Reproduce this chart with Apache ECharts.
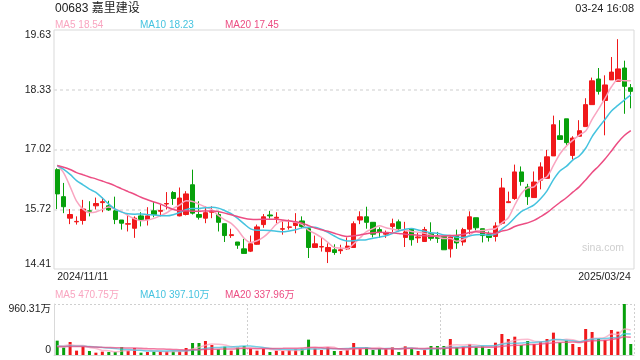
<!DOCTYPE html>
<html><head><meta charset="utf-8">
<script src="https://cdn.jsdelivr.net/npm/echarts@6/dist/echarts.min.js"></script>
<style>html,body{margin:0;padding:0;background:#fff}#c{width:640px;height:360px}</style>
</head><body><div id="c"></div>
<script>
// ---- data ----
const months = [
  ['2024/11', [11,12,13,14,15,18,19,20,21,22,25,26,27,28,29]],
  ['2024/12', [2,3,4,5,6,9,10,11,12,13,16,17,18,19,20,23,24,27,30,31]],
  ['2025/01', [2,3,6,7,8,9,10,13,14,15,16,17,20,21,22,23,24,27,28]],
  ['2025/02', [3,4,5,6,7,10,11,12,13,14,17,18,19,20,21,24,25,26,27,28]],
  ['2025/03', [3,4,5,6,7,10,11,12,13,14,17,18,19,20,21,24]]
];
const opens  = [16.58,15.99,15.52,15.44,15.47,15.68,15.79,15.86,15.79,15.68,15.48,15.39,15.30,15.57,15.49,15.68,15.67,15.83,16.08,15.57,15.60,16.25,15.60,15.52,15.65,15.60,15.40,15.14,15.00,14.85,14.80,14.95,15.38,15.59,15.52,15.28,15.32,15.36,15.46,15.29,14.88,14.89,14.79,14.83,14.81,14.85,14.88,15.48,15.55,15.43,15.27,15.17,15.34,15.44,15.10,15.29,15.09,15.01,15.18,15.10,15.12,14.85,15.14,15.00,15.28,15.53,15.29,15.16,15.12,15.41,15.86,15.95,16.53,16.20,15.97,16.35,16.39,16.88,17.32,17.69,16.89,17.31,17.52,18.00,18.56,18.09,18.54,18.51,18.80,18.37];
const closes = [16.05,15.77,15.60,15.45,15.72,15.67,15.84,15.88,15.70,15.49,15.41,15.40,15.52,15.49,15.57,15.60,15.69,15.84,15.95,15.96,16.05,15.63,15.54,15.64,15.67,15.43,15.14,15.16,14.93,14.75,14.96,15.33,15.55,15.57,15.54,15.29,15.33,15.42,15.34,14.88,14.96,14.90,14.88,14.77,14.83,14.91,15.40,15.55,15.43,15.17,15.22,15.19,15.40,15.29,15.22,15.05,15.11,15.27,15.08,15.08,14.83,15.11,14.98,15.27,15.55,15.31,15.14,15.10,15.35,16.18,15.88,16.53,16.32,15.99,16.31,16.64,16.86,17.56,17.24,17.17,17.27,17.43,18.00,18.52,18.29,18.43,18.71,18.78,18.40,18.29];
const lows   = [15.72,15.63,15.39,15.38,15.38,15.56,15.71,15.65,15.68,15.39,15.27,15.23,15.09,15.34,15.36,15.54,15.56,15.71,15.81,15.56,15.58,15.60,15.49,15.41,15.52,15.23,15.00,15.09,14.85,14.75,14.78,14.94,15.31,15.51,15.41,15.16,15.27,15.19,15.30,14.65,14.88,14.79,14.54,14.72,14.74,14.83,14.88,15.39,15.29,15.10,15.09,15.09,15.22,15.23,14.89,14.92,14.98,15.01,15.03,14.98,14.83,14.66,14.85,14.92,15.17,15.23,14.99,15.01,15.01,15.38,15.85,15.92,16.23,15.81,15.97,16.15,16.39,16.88,17.23,17.12,16.80,17.31,17.52,18.00,18.22,17.33,18.54,18.51,17.80,17.92];
const highs  = [16.61,16.29,15.72,15.56,15.92,15.89,15.97,15.97,15.90,15.99,15.48,15.60,15.56,15.65,15.76,15.87,15.81,16.09,16.11,16.19,16.11,16.58,15.89,15.78,15.78,15.67,15.40,15.29,15.00,15.07,15.14,15.38,15.61,15.68,15.65,15.47,15.49,15.63,15.56,15.29,15.14,15.09,14.97,14.95,14.94,15.10,15.45,15.67,15.77,15.43,15.32,15.25,15.51,15.49,15.44,15.29,15.20,15.33,15.43,15.22,15.12,15.12,15.27,15.31,15.67,15.53,15.29,15.23,15.43,16.40,16.10,16.69,16.65,16.27,16.54,16.74,17.01,17.76,17.66,17.69,17.31,17.66,18.14,18.59,18.80,18.64,19.04,19.43,18.96,18.45];
const volumes = [270,138,245,82,170,75,44,63,57,57,151,82,132,44,57,63,63,69,69,69,132,226,226,264,188,107,157,82,144,170,119,82,119,57,82,75,94,107,119,289,119,94,144,75,75,94,226,119,144,94,119,119,144,57,163,119,75,94,170,170,170,301,144,157,207,144,170,113,232,396,301,345,188,264,207,251,301,421,232,270,207,151,490,433,301,283,471,440,960.31,207];
// closes / volumes of the 19 sessions before the window (for the moving averages)
const priorCloses  = [16.5,16.6,16.8,16.7,16.6,16.7,16.8,16.7,16.6,16.7,16.6,16.7,16.8,16.65,16.6,16.57,17.10,17.05,16.58];
const priorVolumes = [150,160,140,170,150,130,160,150,140,155,165,150,140,160,150,145,155,150,160];
const priceTickLabels = ['14.41','15.72','17.02','18.33','19.63'];
const priceMin = 14.41, priceMax = 19.63;
const volTickLabels = ['0','960.31万'];
const volMax = 960.31;
const titleText = '00683 嘉里建设';
const timeText = '03-24 16:08';
const maLegend = ['MA5 18.54','MA10 18.23','MA20 17.45'];
const volLegend = ['MA5 470.75万','MA10 397.10万','MA20 337.96万'];
const maPeriods = [5,10,20];

// ---- build ----
const dates = [];
months.forEach(([m, days]) => days.forEach(d => dates.push(m + '/' + String(d).padStart(2,'0'))));
const RED = '#f0191b', GREEN = '#07a00b';
const MA_COLORS = ['#f9a5c0','#45c3df','#ec4d83'];
const FONT = "'Liberation Sans','Noto Sans CJK SC',Arial,sans-serif";

function ma(n, data, prior) {
  const all = prior.concat(data);
  return data.map((_, i) => {
    const j = i + prior.length;
    let s = 0;
    for (let k = j - n + 1; k <= j; k++) s += all[k];
    return +(s / n).toFixed(3);
  });
}
const kData = opens.map((o, i) => [o, closes[i], lows[i], highs[i]]);
const volData = volumes.map((v, i) => ({
  value: v,
  itemStyle: { color: closes[i] >= opens[i] ? RED : GREEN }
}));
const priceInterval = (priceMax - priceMin) / (priceTickLabels.length - 1);

const series = [{
  type: 'candlestick', xAxisIndex: 0, yAxisIndex: 0, data: kData, barWidth: '74%',
  itemStyle: { color: RED, color0: GREEN, borderColor: RED, borderColor0: GREEN, borderWidth: 1 },
  silent: true
}];
maPeriods.forEach((p, idx) => {
  series.push({
    type: 'line', xAxisIndex: 0, yAxisIndex: 0, data: ma(p, closes, priorCloses),
    showSymbol: false, smooth: 0.3, silent: true,
    lineStyle: { width: 1.5, color: MA_COLORS[idx] }
  });
});
series.push({
  type: 'bar', xAxisIndex: 1, yAxisIndex: 1, data: volData, barWidth: 3, silent: true
});
maPeriods.forEach((p, idx) => {
  series.push({
    type: 'line', xAxisIndex: 1, yAxisIndex: 1, data: ma(p, volumes, priorVolumes),
    showSymbol: false, smooth: 0.3, silent: true,
    lineStyle: { width: 1.5, color: MA_COLORS[idx], opacity: 0.75 }
  });
});

const txt = (text, pos, size, color) => Object.assign({
  type: 'text', silent: true,
  style: { text, fontSize: size, fill: color, fontFamily: FONT }
}, pos);

const graphic = [
  txt(titleText, { left: 55, top: 2.5 }, 12, '#222'),
  txt(timeText, { right: 6, top: 3 }, 11, '#222'),
  txt(maLegend[0], { left: 55, top: 20 }, 10, MA_COLORS[0]),
  txt(maLegend[1], { left: 140, top: 20 }, 10, MA_COLORS[1]),
  txt(maLegend[2], { left: 225, top: 20 }, 10, MA_COLORS[2]),
  txt(volLegend[0], { left: 55, top: 290 }, 10, MA_COLORS[0]),
  txt(volLegend[1], { left: 140, top: 290 }, 10, MA_COLORS[1]),
  txt(volLegend[2], { left: 225, top: 290 }, 10, MA_COLORS[2]),
  txt('sina.com', { left: 582, top: 243 }, 10.5, '#cfcfcf')
];

const option = {
  animation: false,
  backgroundColor: '#fff',
  textStyle: { fontFamily: FONT },
  grid: [
    { left: 54, right: 6, top: 30, height: 239, show: true, borderColor: '#d9d9d9', borderWidth: 1 },
    { left: 54, right: 6, top: 304, height: 51 }
  ],
  xAxis: [{
    type: 'category', gridIndex: 0, data: dates, boundaryGap: true,
    axisLine: { show: false }, axisTick: { show: false }, splitLine: { show: false },
    axisLabel: {
      color: '#222', fontSize: 10.5, margin: 3,
      interval: (i) => i === 0 || i === dates.length - 1,
      alignMinLabel: 'left', alignMaxLabel: 'right'
    }
  }, {
    type: 'category', gridIndex: 1, data: dates, boundaryGap: true,
    axisLine: { show: true, lineStyle: { color: '#d9d9d9' } }, axisTick: { show: false },
    axisLabel: { show: false },
    splitLine: { show: true, interval: (i) => i === 30 || i === 60, lineStyle: { color: '#cfcfcf', type: [2, 2] } }
  }],
  yAxis: [{
    type: 'value', gridIndex: 0, min: priceMin, max: priceMax, interval: priceInterval,
    axisLine: { show: false }, axisTick: { show: false },
    splitLine: { show: true, showMinLine: false, showMaxLine: false, lineStyle: { color: '#dedede', type: [3, 3], width: 1.5 } },
    axisLabel: {
      color: '#222', fontSize: 10.5, margin: 3,
      verticalAlignMinLabel: 'bottom', verticalAlignMaxLabel: 'top',
      formatter: (v) => priceTickLabels[Math.round((v - priceMin) / priceInterval)]
    }
  }, {
    type: 'value', gridIndex: 1, min: 0, max: volMax, interval: volMax,
    axisLine: { show: true, lineStyle: { color: '#d9d9d9' } }, axisTick: { show: false },
    splitLine: { show: true, showMinLine: false, lineStyle: { color: '#cfcfcf', type: [2, 2] } },
    axisLabel: {
      color: '#222', fontSize: 10.5, margin: 3,
      verticalAlignMinLabel: 'bottom', verticalAlignMaxLabel: 'top',
      formatter: (v) => volTickLabels[Math.round(v / volMax)]
    }
  }],
  graphic: graphic,
  series: series
};
const chart = echarts.init(document.getElementById('c'), null, { renderer: 'canvas' });
chart.setOption(option);
</script>
</body></html>
